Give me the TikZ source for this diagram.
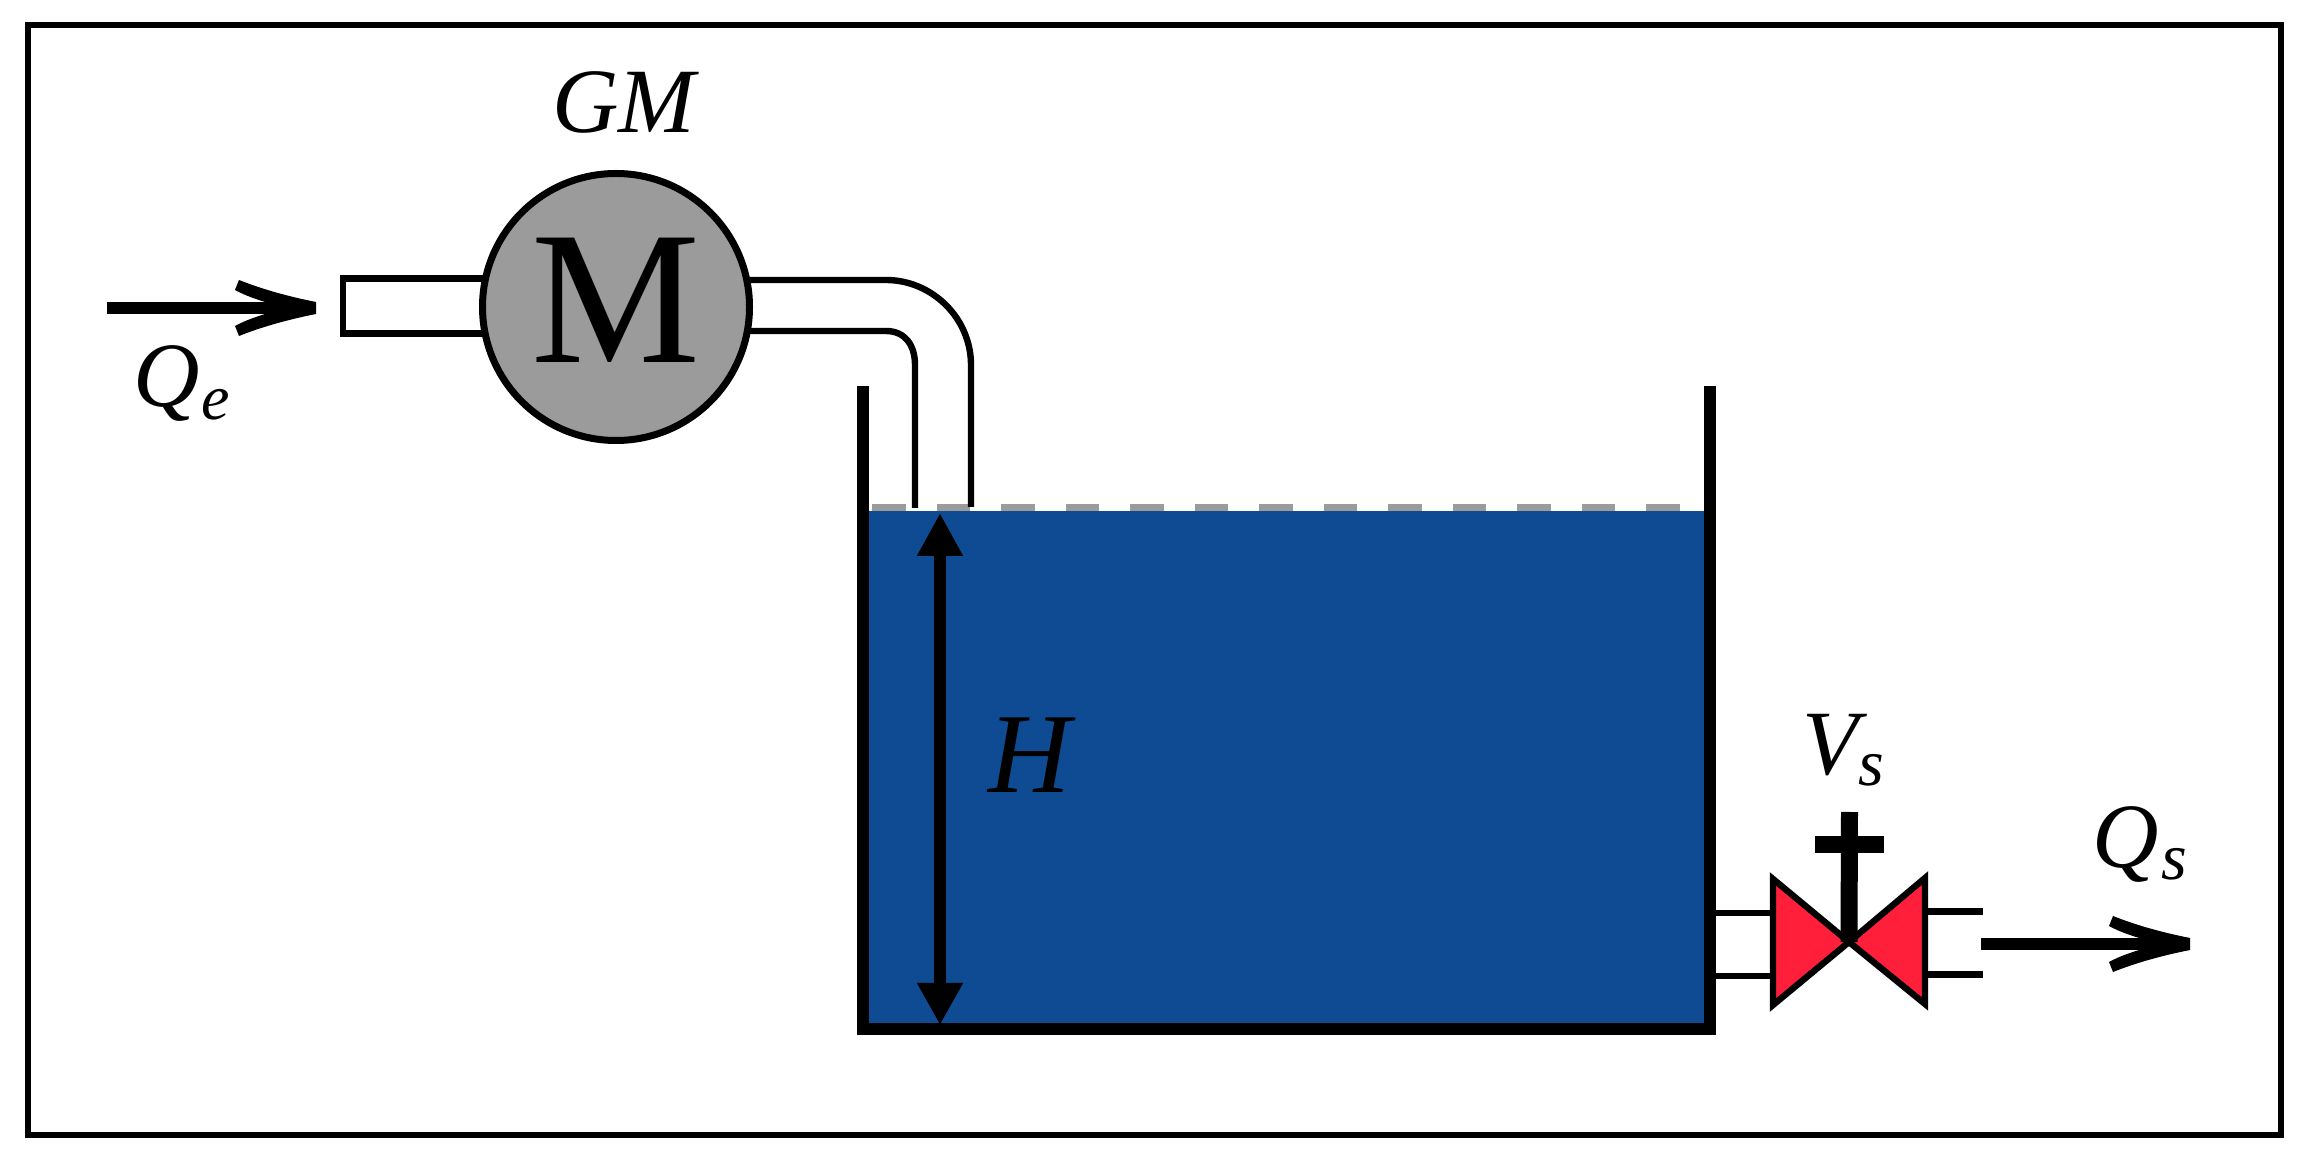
\documentclass[tikz,border=0pt]{standalone}
\usepackage{fontspec}
\setmainfont{Liberation Serif}
\usetikzlibrary{arrows.meta,calc}
\definecolor{water}{HTML}{0E4B92}
\definecolor{dashgrey}{HTML}{9B9B9B}
\definecolor{valvered}{HTML}{FF1F3A}
\newcommand{\labfont}[1]{\fontsize{#1}{#1}\selectfont\itshape}
\newcommand{\barbhead}[1]{%
  \fill[shift={(#1)}] (0,-6) .. controls (-25,-11) and (-52,-18) .. (-77,-28) -- (-81,-18)
    .. controls (-70,-12) and (-60,-9) .. (-51,-6) -- (-51,6)
    .. controls (-60,9) and (-70,12) .. (-81,18) -- (-77,28)
    .. controls (-52,18) and (-25,11) .. (0,6) -- cycle;}
\tikzset{
  pipe/.style={line width=3.2pt,line cap=butt},
  wall/.style={line width=6pt,line cap=butt},
  flow/.style={line width=6pt},
  valvepart/.style={draw=black,fill=valvered,line width=3.2pt,miter limit=10},
  stem/.style={line width=8.5pt},
  lab/.style={inner sep=0pt,outer sep=0pt,anchor=base west},
}
\begin{document}
\begin{tikzpicture}[x=0.5pt,y=-0.5pt]
\useasboundingbox (0,0) rectangle (2304,1159);
\fill[white] (0,0) rectangle (2304,1159);
% frame
\draw[line width=3pt] (28,25.5) rectangle (2281,1135);
% water
\fill[water] (863,511) rectangle (1710,1029);
% level dashes
\foreach \k in {0,...,12}
  \fill[dashgrey] ({872+64.5*\k},504) rectangle ({905.5+64.5*\k},511);
% inlet pipe
\coordinate (inA) at (500,278.5);
\coordinate (inB) at (343,278.5);
\coordinate (inC) at (343,333.5);
\coordinate (inD) at (500,333.5);
\draw[pipe,line join=miter] (inA) -- (inB) -- (inC) -- (inD);
% outlet pipe
\coordinate (o1) at (740,280);
\coordinate (o2) at (886,280);
\coordinate (o3) at (971,365);
\coordinate (o4) at (971,507);
\coordinate (i1) at (740,331);
\coordinate (i2) at (886,331);
\coordinate (i3) at (915,365);
\coordinate (i4) at (915,508);
\draw[pipe] (o1) -- (o2) .. controls (932,280) and (971,318) .. (o3) -- (o4);
\draw[pipe] (i1) -- (i2) .. controls (905,331) and (915,345) .. (i3) -- (i4);
% motor
\node[circle,draw=black,fill=dashgrey,line width=3.5pt,minimum size=133.5pt,inner sep=0pt,outer sep=0pt] (motor) at (616,307) {};
\node[inner sep=0pt] (mtext) at (616,300) {\fontsize{95}{95}\selectfont M};
\node[lab] (gm) at (552,133) {\labfont{46}GM};
% tank
\coordinate (tl) at (863,386);
\coordinate (tr) at (1710,386);
\coordinate (bl) at (863,1029);
\coordinate (br) at (1710,1029);
\draw[wall,line join=miter] (tl) -- (bl) -- (br) -- (tr);
% level arrow
\coordinate (htop) at (940,513);
\coordinate (hbot) at (940,1025);
\draw[flow,{Triangle[length=21.5pt,width=21.5pt]}-{Triangle[length=21pt,width=21.5pt]}] (htop) -- (hbot);
\node[lab] (h) at (988,793) {\labfont{57}H};
% inlet arrow
\coordinate (qeA) at (107,308);
\coordinate (qeB) at (316,308);
\draw[flow] (qeA) -- ($(qeB)+(-40,0)$);
\barbhead{qeB}
\node[lab] (qe) at (133,407) {\labfont{46}Q};
\node[lab] (qes) at (201,420) {\labfont{32}e};
% outlet arrow
\coordinate (qsA) at (1981,944);
\coordinate (qsB) at (2190,944);
\draw[flow] (qsA) -- ($(qsB)+(-40,0)$);
\barbhead{qsB}
\node[lab] (qs) at (2092,868) {\labfont{46}Q};
\node[lab] (qss) at (2161,880) {\labfont{33}s};
% valve pipes
\coordinate (w1) at (1716,913);
\coordinate (w2) at (1716,976);
\coordinate (v1) at (1773,913);
\coordinate (v2) at (1773,976);
\coordinate (v3) at (1925,911.5);
\coordinate (v4) at (1925,974.5);
\coordinate (e1) at (1983,911.5);
\coordinate (e2) at (1983,974.5);
\draw[pipe] (w1) -- (v1);
\draw[pipe] (w2) -- (v2);
\draw[pipe] (v3) -- (e1);
\draw[pipe] (v4) -- (e2);
% valve
\coordinate (vc) at (1849,942);
\draw[valvepart] (1773,879) -- (1773,1005) -- (vc) -- cycle;
\draw[valvepart] (1925,878) -- (1925,1004) -- (vc) -- cycle;
\coordinate (st) at (1849.5,812);
\coordinate (cl) at (1815,844.5);
\coordinate (cr) at (1884,844.5);
\draw[stem] (st) -- (vc);
\draw[stem] (cl) -- (cr);
\node[lab] (vs) at (1802,775) {\labfont{46}V};
\node[lab] (vss) at (1858,786) {\labfont{33}s};
\end{tikzpicture}
\end{document}
